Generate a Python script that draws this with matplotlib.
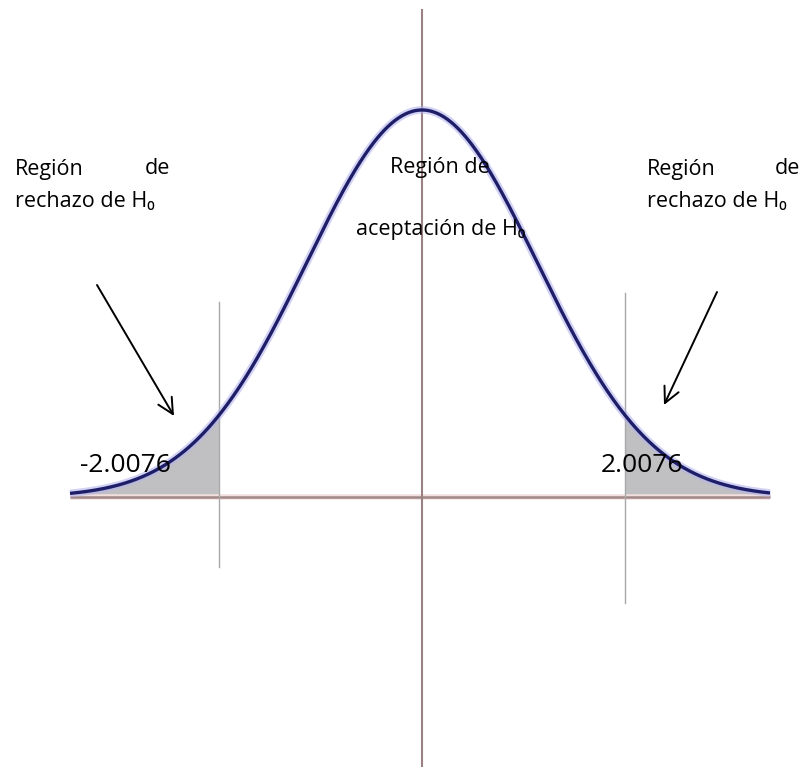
import numpy as np
import matplotlib
matplotlib.use("Agg")
import matplotlib.pyplot as plt

# ---- data ----
critical_value = 2.0076
sigma = 1.14
x_min, x_max = -3.485, 3.446
crit_labels = ["-2.0076", "2.0076"]
side_label_top = ["Región", "de"]
side_label_bottom = "rechazo de H\u2080"
center_label = ["Región de", "aceptación de H\u2080"]

plt.rcParams['font.family'] = ['Open Sans', 'DejaVu Sans']

z = np.linspace(x_min, x_max, 600)
pdf = np.exp(-0.5 * (z / sigma) ** 2) / (sigma * np.sqrt(2 * np.pi))
p0 = pdf.max()

fig = plt.figure(figsize=(8.05, 7.67), dpi=100)
ax = fig.add_axes([0, 0, 1, 1])
ax.set_xlim(-422 / 101, (805 - 422) / 101)
ax.set_ylim(-0.6977 * p0, 1.2842 * p0)
ax.axis('off')

# shaded tails
left = z <= -critical_value
right = z >= critical_value
ax.fill_between(z[left], 0, pdf[left], color='#c0c0c2', lw=0, zorder=1)
ax.fill_between(z[right], 0, pdf[right], color='#c0c0c2', lw=0, zorder=1)

# axes lines
ax.plot([x_min, x_max], [0, 0], color='#f3dede', lw=4, zorder=2, solid_capstyle='butt')
ax.plot([x_min, x_max], [0, 0], color='#a08888', lw=1.8, zorder=2, solid_capstyle='butt')
ax.plot([0, 0], [-0.70 * p0, 1.258 * p0], color='#9a8282', lw=1.5, zorder=2)

# critical lines
ax.plot([-critical_value] * 2, [-0.181 * p0, 0.504 * p0], color='#a8a8a8', lw=1.0, zorder=2)
ax.plot([critical_value] * 2, [-0.274 * p0, 0.527 * p0], color='#a8a8a8', lw=1.0, zorder=2)

# curve
ax.plot(z, pdf, color='#b4b4ee', lw=5.5, alpha=0.6, zorder=3, solid_capstyle='butt')
ax.plot(z, pdf, color='#1e1e68', lw=2.4, zorder=4, solid_capstyle='butt')

# arrows
ax.annotate('', xy=(174 / 805, 1 - 416 / 767), xytext=(97 / 805, 1 - 285 / 767),
            xycoords='axes fraction', textcoords='axes fraction',
            arrowprops=dict(arrowstyle='->', color='black', lw=1.4,
                            mutation_scale=28, shrinkA=0, shrinkB=0))
ax.annotate('', xy=(664 / 805, 1 - 405 / 767), xytext=(717 / 805, 1 - 292 / 767),
            xycoords='axes fraction', textcoords='axes fraction',
            arrowprops=dict(arrowstyle='->', color='black', lw=1.4,
                            mutation_scale=28, shrinkA=0, shrinkB=0))

fs = 15.5
def t(px, py, s, ha='left', size=fs):
    ax.text(px / 805, 1 - py / 767, s, transform=ax.transAxes, ha=ha, va='center',
            fontsize=size, color='black', zorder=5)

# left side label
t(15, 169, side_label_top[0])
t(170, 169, side_label_top[1], ha='right')
t(15, 202, side_label_bottom)
# right side label
t(647, 169, side_label_top[0])
t(800, 169, side_label_top[1], ha='right')
t(647, 202, side_label_bottom)
# center label
t(440, 167, center_label[0], ha='center')
t(441, 229, center_label[1], ha='center')

# critical value labels
t(80, 465, crit_labels[0], size=19)
t(601, 465, crit_labels[1], size=19)

fig.savefig('out.png', dpi=100, facecolor='white')
